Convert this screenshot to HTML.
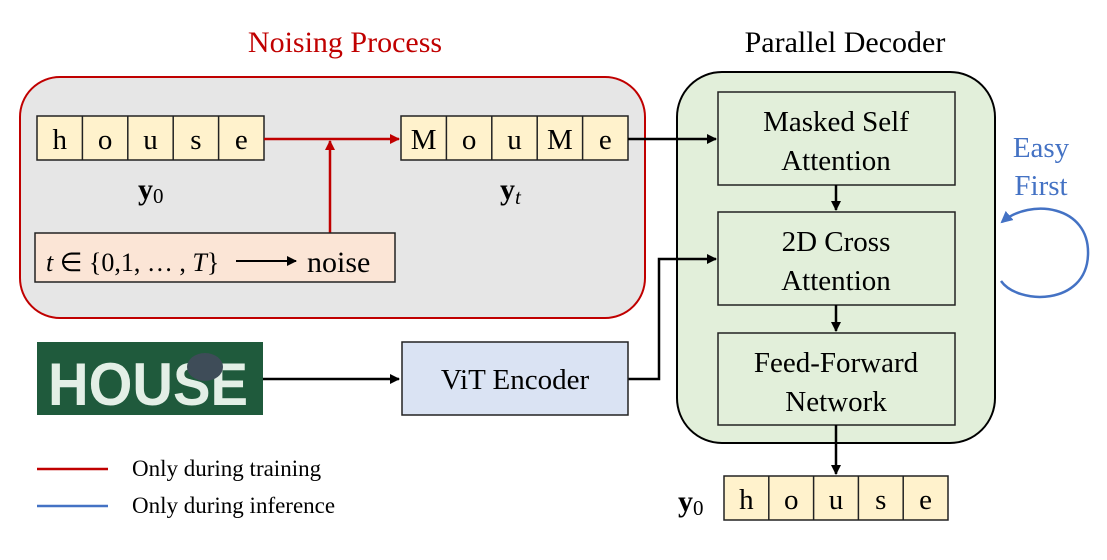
<!DOCTYPE html>
<html><head><meta charset="utf-8"><style>
html,body{margin:0;padding:0;background:#fff;}
svg{display:block;}
text{font-family:"Liberation Serif",serif;}
</style></head><body>
<svg width="1107" height="560" viewBox="0 0 1107 560" xmlns="http://www.w3.org/2000/svg">
<defs>
<marker id="ak" markerWidth="10" markerHeight="10" refX="9" refY="5" orient="auto" markerUnits="userSpaceOnUse"><path d="M0,0 L10,5 L0,10 z" fill="#000"/></marker>
<marker id="ar" markerWidth="10" markerHeight="10" refX="9" refY="5" orient="auto" markerUnits="userSpaceOnUse"><path d="M0,0 L10,5 L0,10 z" fill="#c00000"/></marker>
<marker id="ab" markerWidth="12" markerHeight="12" refX="10" refY="6" orient="auto" markerUnits="userSpaceOnUse"><path d="M0,0 L12,6 L0,12 z" fill="#4472c4"/></marker>
</defs>
<text x="345" y="52" font-size="30" fill="#c00000" text-anchor="middle">Noising Process</text>
<text x="845" y="52" font-size="30" fill="#000" text-anchor="middle">Parallel Decoder</text>
<rect x="20" y="77" width="625" height="241" rx="40" fill="#e6e6e6" stroke="#c00000" stroke-width="2"/>
<rect x="677" y="72" width="318" height="371" rx="45" fill="#e2efda" stroke="#000" stroke-width="2"/>
<g stroke="#222" stroke-width="1.5" fill="#fff2cc">
<rect x="37" y="116" width="227" height="44"/>
<line x1="82.4" y1="116" x2="82.4" y2="160"/><line x1="127.8" y1="116" x2="127.8" y2="160"/><line x1="173.2" y1="116" x2="173.2" y2="160"/><line x1="218.6" y1="116" x2="218.6" y2="160"/>
<rect x="401" y="116" width="227" height="44"/>
<line x1="446.4" y1="116" x2="446.4" y2="160"/><line x1="491.8" y1="116" x2="491.8" y2="160"/><line x1="537.2" y1="116" x2="537.2" y2="160"/><line x1="582.6" y1="116" x2="582.6" y2="160"/>
<rect x="724" y="476" width="224" height="44"/>
<line x1="768.8" y1="476" x2="768.8" y2="520"/><line x1="813.6" y1="476" x2="813.6" y2="520"/><line x1="858.4" y1="476" x2="858.4" y2="520"/><line x1="903.2" y1="476" x2="903.2" y2="520"/>
</g>
<g font-size="29" text-anchor="middle">
<text x="59.7" y="149">h</text><text x="105.1" y="149">o</text><text x="150.5" y="149">u</text><text x="195.9" y="149">s</text><text x="241.3" y="149">e</text>
<text x="423.7" y="149">M</text><text x="469.1" y="149">o</text><text x="514.5" y="149">u</text><text x="559.9" y="149">M</text><text x="605.3" y="149">e</text>
<text x="746.4" y="509">h</text><text x="791.2" y="509">o</text><text x="836" y="509">u</text><text x="880.8" y="509">s</text><text x="925.6" y="509">e</text>
</g>
<text x="138" y="199" font-size="30" font-weight="bold">y<tspan font-weight="normal" font-size="21" dy="4">0</tspan></text>
<text x="500" y="199" font-size="30" font-weight="bold">y<tspan font-weight="normal" font-style="italic" font-size="21" dy="5">t</tspan></text>
<text x="678" y="511" font-size="30" font-weight="bold">y<tspan font-weight="normal" font-size="21" dy="4">0</tspan></text>
<line x1="264" y1="139" x2="399" y2="139" stroke="#c00000" stroke-width="2.5" marker-end="url(#ar)"/>
<line x1="330" y1="233" x2="330" y2="141" stroke="#c00000" stroke-width="2.5" marker-end="url(#ar)"/>
<rect x="35" y="233" width="360" height="49" fill="#fbe5d6" stroke="#222" stroke-width="1.5"/>
<text x="46" y="271" font-size="26"><tspan font-style="italic">t</tspan> ∈ {0,1, … , <tspan font-style="italic">T</tspan>}</text>
<line x1="236" y1="261" x2="296" y2="261" stroke="#000" stroke-width="2" marker-end="url(#ak)"/>
<text x="307" y="272" font-size="30">noise</text>
<g fill="#e2efda" stroke="#222" stroke-width="1.5">
<rect x="718" y="92" width="237" height="93"/>
<rect x="718" y="212" width="237" height="93"/>
<rect x="718" y="333" width="237" height="92"/>
</g>
<g font-size="29" text-anchor="middle">
<text x="836" y="131">Masked Self</text><text x="836" y="170">Attention</text>
<text x="836" y="251">2D Cross</text><text x="836" y="290">Attention</text>
<text x="836" y="372">Feed-Forward</text><text x="836" y="411">Network</text>
</g>
<g stroke="#000" stroke-width="2.5" fill="none">
<line x1="628" y1="139" x2="716" y2="139" marker-end="url(#ak)"/>
<line x1="836" y1="185" x2="836" y2="210" marker-end="url(#ak)"/>
<line x1="836" y1="305" x2="836" y2="331" marker-end="url(#ak)"/>
<line x1="836" y1="425" x2="836" y2="474" marker-end="url(#ak)"/>
<polyline points="628,379 659,379 659,259 716,259" marker-end="url(#ak)"/>
<line x1="263" y1="379" x2="399" y2="379" marker-end="url(#ak)"/>
</g>
<rect x="37" y="342" width="226" height="73" fill="#1f5a3c"/>
<text x="48" y="405" font-size="60" font-weight="bold" fill="#e3efe6" textLength="200" lengthAdjust="spacingAndGlyphs" style="font-family:'Liberation Sans',sans-serif">HOUSE</text>
<ellipse cx="205" cy="367" rx="18" ry="14" fill="#3e4c58"/>
<rect x="402" y="342" width="226" height="73" fill="#dae3f3" stroke="#222" stroke-width="1.5"/>
<text x="515" y="389" font-size="29" text-anchor="middle">ViT Encoder</text>
<text x="1041" y="157" font-size="29" fill="#4472c4" text-anchor="middle">Easy</text>
<text x="1041" y="195" font-size="29" fill="#4472c4" text-anchor="middle">First</text>
<path d="M1001 281 C1018 305 1086 306 1088 255 C1090 205 1030 198 1002 222" fill="none" stroke="#4472c4" stroke-width="2.5" marker-end="url(#ab)"/>
<line x1="37" y1="469" x2="108" y2="469" stroke="#c00000" stroke-width="2.5"/>
<line x1="37" y1="506" x2="108" y2="506" stroke="#4472c4" stroke-width="2.5"/>
<text x="132" y="476" font-size="23">Only during training</text>
<text x="132" y="513" font-size="23">Only during inference</text>
</svg>
</body></html>
